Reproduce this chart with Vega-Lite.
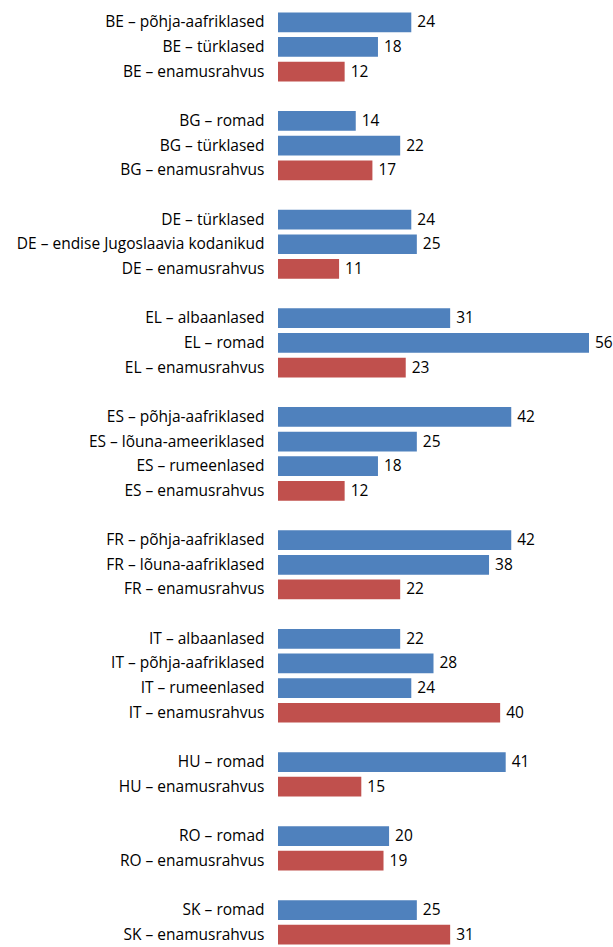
{
  "$schema": "https://vega.github.io/schema/vega-lite/v6.json",
  "autosize": {"type": "none"},
  "padding": {"left": 278, "top": 10, "right": 24, "bottom": 0},
  "width": 311,
  "height": 937,
  "background": "white",
  "config": {"view": {"stroke": null}, "font": "Open Sans"},
  "data": {"values": [
    {"label": "BE – põhja-aafriklased", "value": 24, "type": "minority"},
    {"label": "BE – türklased", "value": 18, "type": "minority"},
    {"label": "BE – enamusrahvus", "value": 12, "type": "majority"},
    {"label": "BG – romad", "value": 14, "type": "minority"},
    {"label": "BG – türklased", "value": 22, "type": "minority"},
    {"label": "BG – enamusrahvus", "value": 17, "type": "majority"},
    {"label": "DE – türklased", "value": 24, "type": "minority"},
    {"label": "DE – endise Jugoslaavia kodanikud", "value": 25, "type": "minority"},
    {"label": "DE – enamusrahvus", "value": 11, "type": "majority"},
    {"label": "EL – albaanlased", "value": 31, "type": "minority"},
    {"label": "EL – romad", "value": 56, "type": "minority"},
    {"label": "EL – enamusrahvus", "value": 23, "type": "majority"},
    {"label": "ES – põhja-aafriklased", "value": 42, "type": "minority"},
    {"label": "ES – lõuna-ameeriklased", "value": 25, "type": "minority"},
    {"label": "ES – rumeenlased", "value": 18, "type": "minority"},
    {"label": "ES – enamusrahvus", "value": 12, "type": "majority"},
    {"label": "FR – põhja-aafriklased", "value": 42, "type": "minority"},
    {"label": "FR – lõuna-aafriklased", "value": 38, "type": "minority"},
    {"label": "FR – enamusrahvus", "value": 22, "type": "majority"},
    {"label": "IT – albaanlased", "value": 22, "type": "minority"},
    {"label": "IT – põhja-aafriklased", "value": 28, "type": "minority"},
    {"label": "IT – rumeenlased", "value": 24, "type": "minority"},
    {"label": "IT – enamusrahvus", "value": 40, "type": "majority"},
    {"label": "HU – romad", "value": 41, "type": "minority"},
    {"label": "HU – enamusrahvus", "value": 15, "type": "majority"},
    {"label": "RO – romad", "value": 20, "type": "minority"},
    {"label": "RO – enamusrahvus", "value": 19, "type": "majority"},
    {"label": "SK – romad", "value": 25, "type": "minority"},
    {"label": "SK – enamusrahvus", "value": 31, "type": "majority"}
  ]},
  "encoding": {
    "y": {
      "field": "label",
      "type": "nominal",
      "title": null,
      "scale": {
        "domain": [
          "BE – põhja-aafriklased", "BE – türklased", "BE – enamusrahvus", "_1",
          "BG – romad", "BG – türklased", "BG – enamusrahvus", "_2",
          "DE – türklased", "DE – endise Jugoslaavia kodanikud", "DE – enamusrahvus", "_3",
          "EL – albaanlased", "EL – romad", "EL – enamusrahvus", "_4",
          "ES – põhja-aafriklased", "ES – lõuna-ameeriklased", "ES – rumeenlased", "ES – enamusrahvus", "_5",
          "FR – põhja-aafriklased", "FR – lõuna-aafriklased", "FR – enamusrahvus", "_6",
          "IT – albaanlased", "IT – põhja-aafriklased", "IT – rumeenlased", "IT – enamusrahvus", "_7",
          "HU – romad", "HU – enamusrahvus", "_8",
          "RO – romad", "RO – enamusrahvus", "_9",
          "SK – romad", "SK – enamusrahvus"
        ],
        "paddingInner": 0.2,
        "paddingOuter": 0.1
      },
      "axis": {
        "domain": false,
        "ticks": false,
        "labelPadding": 14,
        "labelFontSize": 15.5,
        "labelColor": "#000000",
        "labelFont": "Open Sans",
        "labelLimit": 400,
        "labelExpr": "substring(datum.value,0,1)=='_' ? '' : datum.value"
      }
    },
    "x": {
      "field": "value",
      "type": "quantitative",
      "scale": {"domain": [0, 56], "nice": false},
      "axis": null
    }
  },
  "layer": [
    {
      "mark": {"type": "bar"},
      "encoding": {
        "color": {
          "field": "type",
          "type": "nominal",
          "scale": {"domain": ["minority", "majority"], "range": ["#4F81BD", "#C0504D"]},
          "legend": null
        }
      }
    },
    {
      "mark": {"type": "text", "align": "left", "baseline": "middle", "dx": 6, "fontSize": 15.5, "font": "Open Sans", "color": "#000000"},
      "encoding": {"text": {"field": "value", "type": "quantitative"}}
    }
  ]
}
